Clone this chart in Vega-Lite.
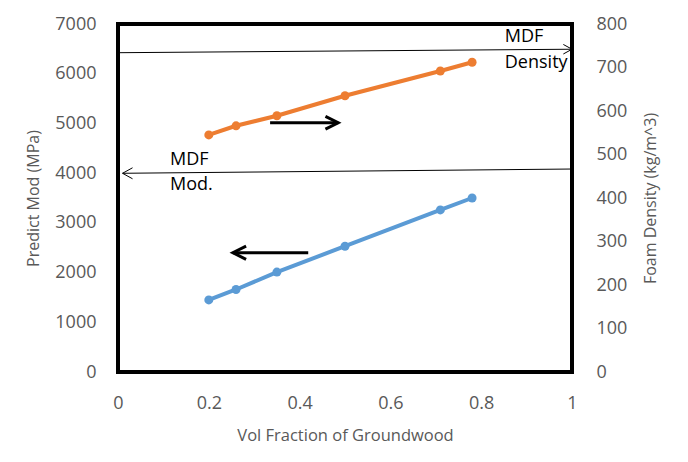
{
  "$schema": "https://vega.github.io/schema/vega-lite/v6.json",
  "width": 454,
  "height": 348,
  "autosize": "none",
  "padding": {"left": 118, "top": 24, "right": 116, "bottom": 90},
  "background": "white",
  "config": {
    "font": "Open Sans",
    "view": {"stroke": "black", "strokeWidth": 4},
    "axis": {
      "domain": false, "ticks": false, "grid": false, "labelFlush": false,
      "labelColor": "#595959", "labelFontSize": 18, "labelFont": "Open Sans",
      "titleColor": "#595959", "titleFontSize": 16, "titleFontWeight": "normal", "titleFont": "Open Sans"
    }
  },
  "datasets": {
    "mod": [
      {"x": 0.2, "v": 1450}, {"x": 0.26, "v": 1660}, {"x": 0.35, "v": 2010},
      {"x": 0.5, "v": 2530}, {"x": 0.71, "v": 3260}, {"x": 0.78, "v": 3500}
    ],
    "density": [
      {"x": 0.2, "v": 545}, {"x": 0.26, "v": 566}, {"x": 0.35, "v": 589},
      {"x": 0.5, "v": 635}, {"x": 0.71, "v": 692}, {"x": 0.78, "v": 712}
    ],
    "modLine": [{"x": 0.01, "v": 3997}, {"x": 1, "v": 4083}],
    "modHead": [{"x": 0.01, "v": 3997}],
    "modArrow": [{"x": 0.253, "v": 2400}, {"x": 0.419, "v": 2400}],
    "modArrowHead": [{"x": 0.253, "v": 2400}],
    "modText": [{"x": 0.1145, "v": 4264, "t": "MDF"}, {"x": 0.1145, "v": 3761, "t": "Mod."}],
    "denLine": [{"x": 0, "v": 734}, {"x": 1, "v": 742}],
    "denHead": [{"x": 1, "v": 742}],
    "denArrow": [{"x": 0.335, "v": 573}, {"x": 0.485, "v": 573}],
    "denArrowHead": [{"x": 0.485, "v": 573}],
    "denText": [{"x": 0.852, "v": 771, "t": "MDF"}, {"x": 0.852, "v": 711, "t": "Density"}]
  },
  "layer": [
    {
      "encoding": {
        "x": {
          "field": "x", "type": "quantitative",
          "scale": {"domain": [0, 1], "nice": false},
          "axis": {"values": [0, 0.2, 0.4, 0.6, 0.8, 1], "format": "~g", "labelPadding": 22,
                   "title": "Vol Fraction of Groundwood", "titleFontSize": 16.5, "titleY": 63, "titleBaseline": "middle"}
        },
        "y": {
          "field": "v", "type": "quantitative",
          "scale": {"domain": [0, 7000], "nice": false},
          "axis": {"orient": "left", "values": [0, 1000, 2000, 3000, 4000, 5000, 6000, 7000], "format": "d",
                   "labelPadding": 22, "title": "Predict Mod (MPa)", "titleX": -85, "titleY": 174,
                   "titleAngle": -90, "titleAlign": "center", "titleBaseline": "middle"}
        }
      },
      "layer": [
        {"data": {"name": "modLine"}, "mark": {"type": "line", "color": "black", "strokeWidth": 1}},
        {"data": {"name": "modHead"}, "mark": {"type": "point", "shape": "M1,-0.55L0,0L1,0.55", "size": 400, "filled": false, "stroke": "black", "strokeWidth": 1, "opacity": 1}},
        {"data": {"name": "modArrow"}, "mark": {"type": "line", "color": "black", "strokeWidth": 3}},
        {"data": {"name": "modArrowHead"}, "mark": {"type": "point", "shape": "M1,-0.5L0,0L1,0.5", "size": 700, "filled": false, "stroke": "black", "strokeWidth": 3, "opacity": 1}},
        {"data": {"name": "modText"}, "mark": {"type": "text", "align": "left", "baseline": "middle", "fontSize": 18, "fill": "#000000", "font": "Open Sans"}, "encoding": {"text": {"field": "t"}}},
        {"data": {"name": "mod"}, "mark": {"type": "line", "color": "#5B9BD5", "strokeWidth": 4, "point": {"filled": true, "size": 80, "color": "#5B9BD5", "opacity": 1}}}
      ]
    },
    {
      "encoding": {
        "x": {"field": "x", "type": "quantitative", "scale": {"domain": [0, 1], "nice": false}},
        "y": {
          "field": "v", "type": "quantitative",
          "scale": {"domain": [0, 800], "nice": false},
          "axis": {"orient": "right", "values": [0, 100, 200, 300, 400, 500, 600, 700, 800], "format": "d",
                   "labelPadding": 24, "title": "Foam Density (kg/m^3)", "titleX": 78, "titleY": 174,
                   "titleAngle": -90, "titleAlign": "center", "titleBaseline": "middle"}
        }
      },
      "layer": [
        {"data": {"name": "denLine"}, "mark": {"type": "line", "color": "black", "strokeWidth": 1}},
        {"data": {"name": "denHead"}, "mark": {"type": "point", "shape": "M-1,-0.55L0,0L-1,0.55", "size": 300, "filled": false, "stroke": "black", "strokeWidth": 1, "opacity": 1}},
        {"data": {"name": "denArrow"}, "mark": {"type": "line", "color": "black", "strokeWidth": 3}},
        {"data": {"name": "denArrowHead"}, "mark": {"type": "point", "shape": "M-1,-0.5L0,0L-1,0.5", "size": 650, "filled": false, "stroke": "black", "strokeWidth": 3, "opacity": 1}},
        {"data": {"name": "denText"}, "mark": {"type": "text", "align": "left", "baseline": "middle", "fontSize": 18, "fill": "#000000", "font": "Open Sans"}, "encoding": {"text": {"field": "t"}}},
        {"data": {"name": "density"}, "mark": {"type": "line", "color": "#ED7D31", "strokeWidth": 4, "point": {"filled": true, "size": 80, "color": "#ED7D31", "opacity": 1}}}
      ]
    }
  ],
  "resolve": {"scale": {"y": "independent"}}
}
